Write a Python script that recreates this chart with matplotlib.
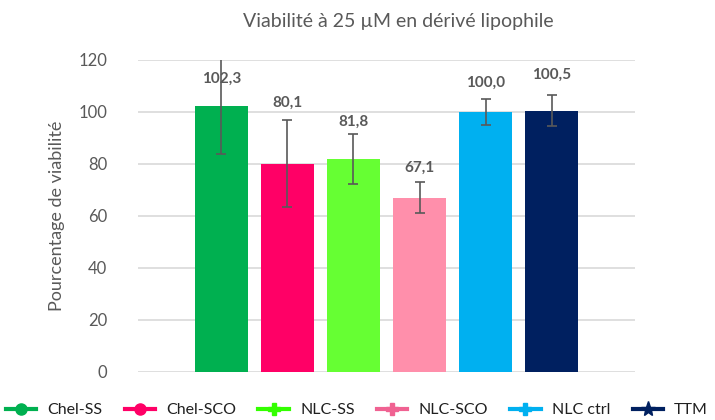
import numpy as np
import matplotlib.pyplot as plt
from matplotlib.lines import Line2D

# donnees
groupes = ["Chel-SS", "Chel-SCO", "NLC-SS", "NLC-SCO", "NLC ctrl", "TTM"]
viabilite = [102.3, 80.1, 81.8, 67.1, 100.0, 100.5]
erreurs = [18.5, 16.8, 9.6, 6.0, 4.9, 6.0]
etiquettes = ["102,3", "80,1", "81,8", "67,1", "100,0", "100,5"]

couleurs = ["#00B050", "#FF0066", "#66FF33", "#FF8FAB", "#00B0F0", "#002060"]
couleurs_leg = ["#00B050", "#FF0066", "#33FF00", "#F06292", "#00B0F0", "#002060"]
marqueurs = ["o", "o", "P", "P", "P", "*"]

plt.rcParams['font.family'] = ['Lato', 'DejaVu Sans']
gris = "#595959"

fig = plt.figure(figsize=(7.15, 4.2), dpi=100)
ax = fig.add_axes([138/715, 1 - 372/420, (635 - 138)/715, (372 - 60)/420])

x = np.arange(len(groupes))
ax.bar(x, viabilite, width=0.79, color=couleurs, zorder=2)
ax.errorbar(x, viabilite, yerr=erreurs, fmt="none", ecolor=gris, elinewidth=1.2,
            capsize=3.5, capthick=1.2, zorder=3)

# etiquettes au-dessus des barres (decalage a la maniere d'Excel)
decalage = [10.4, 6.6, 4.8, 5.4, 6.3, 8.0]
for i in range(len(groupes)):
    if i == 0:
        yy = viabilite[i] + decalage[i]
    else:
        yy = viabilite[i] + erreurs[i] + decalage[i]
    ax.text(x[i], yy, etiquettes[i], ha="center", va="center", fontsize=11,
            fontweight="bold", color=gris, zorder=4)

ax.set_ylim(0, 120)
ax.set_xlim(-1.265, 5 + 1.265)
ax.set_yticks(np.arange(0, 121, 20))
ax.set_xticks([])
ax.yaxis.grid(True, color="#D9D9D9", linewidth=1.2, zorder=0)
ax.set_axisbelow(True)
for s in ax.spines.values():
    s.set_visible(False)
ax.tick_params(axis="y", length=0, labelsize=12, labelcolor=gris, pad=22)
ax.set_ylabel("Pourcentage de viabilité", fontsize=13, color=gris, labelpad=10)

fig.text(398/715, 1 - 22/420, "Viabilité à 25 µM en dérivé lipophile", ha="center",
         va="center", fontsize=14, color=gris)

poignees = []
for c, m in zip(couleurs_leg, marqueurs):
    ms = 11 if m == "*" else 8
    poignees.append(Line2D([0], [0], color=c, lw=3, marker=m, markersize=ms,
                           markerfacecolor=c, markeredgecolor=c))
fig.legend(poignees, groupes, loc="center left", bbox_to_anchor=(0.008, 1 - 410/420),
           ncol=6, frameon=False, fontsize=11.5, handlelength=1.9, columnspacing=1.4,
           handletextpad=0.7, borderaxespad=0, borderpad=0, labelcolor="#202020")

fig.savefig("out.png", dpi=100)
